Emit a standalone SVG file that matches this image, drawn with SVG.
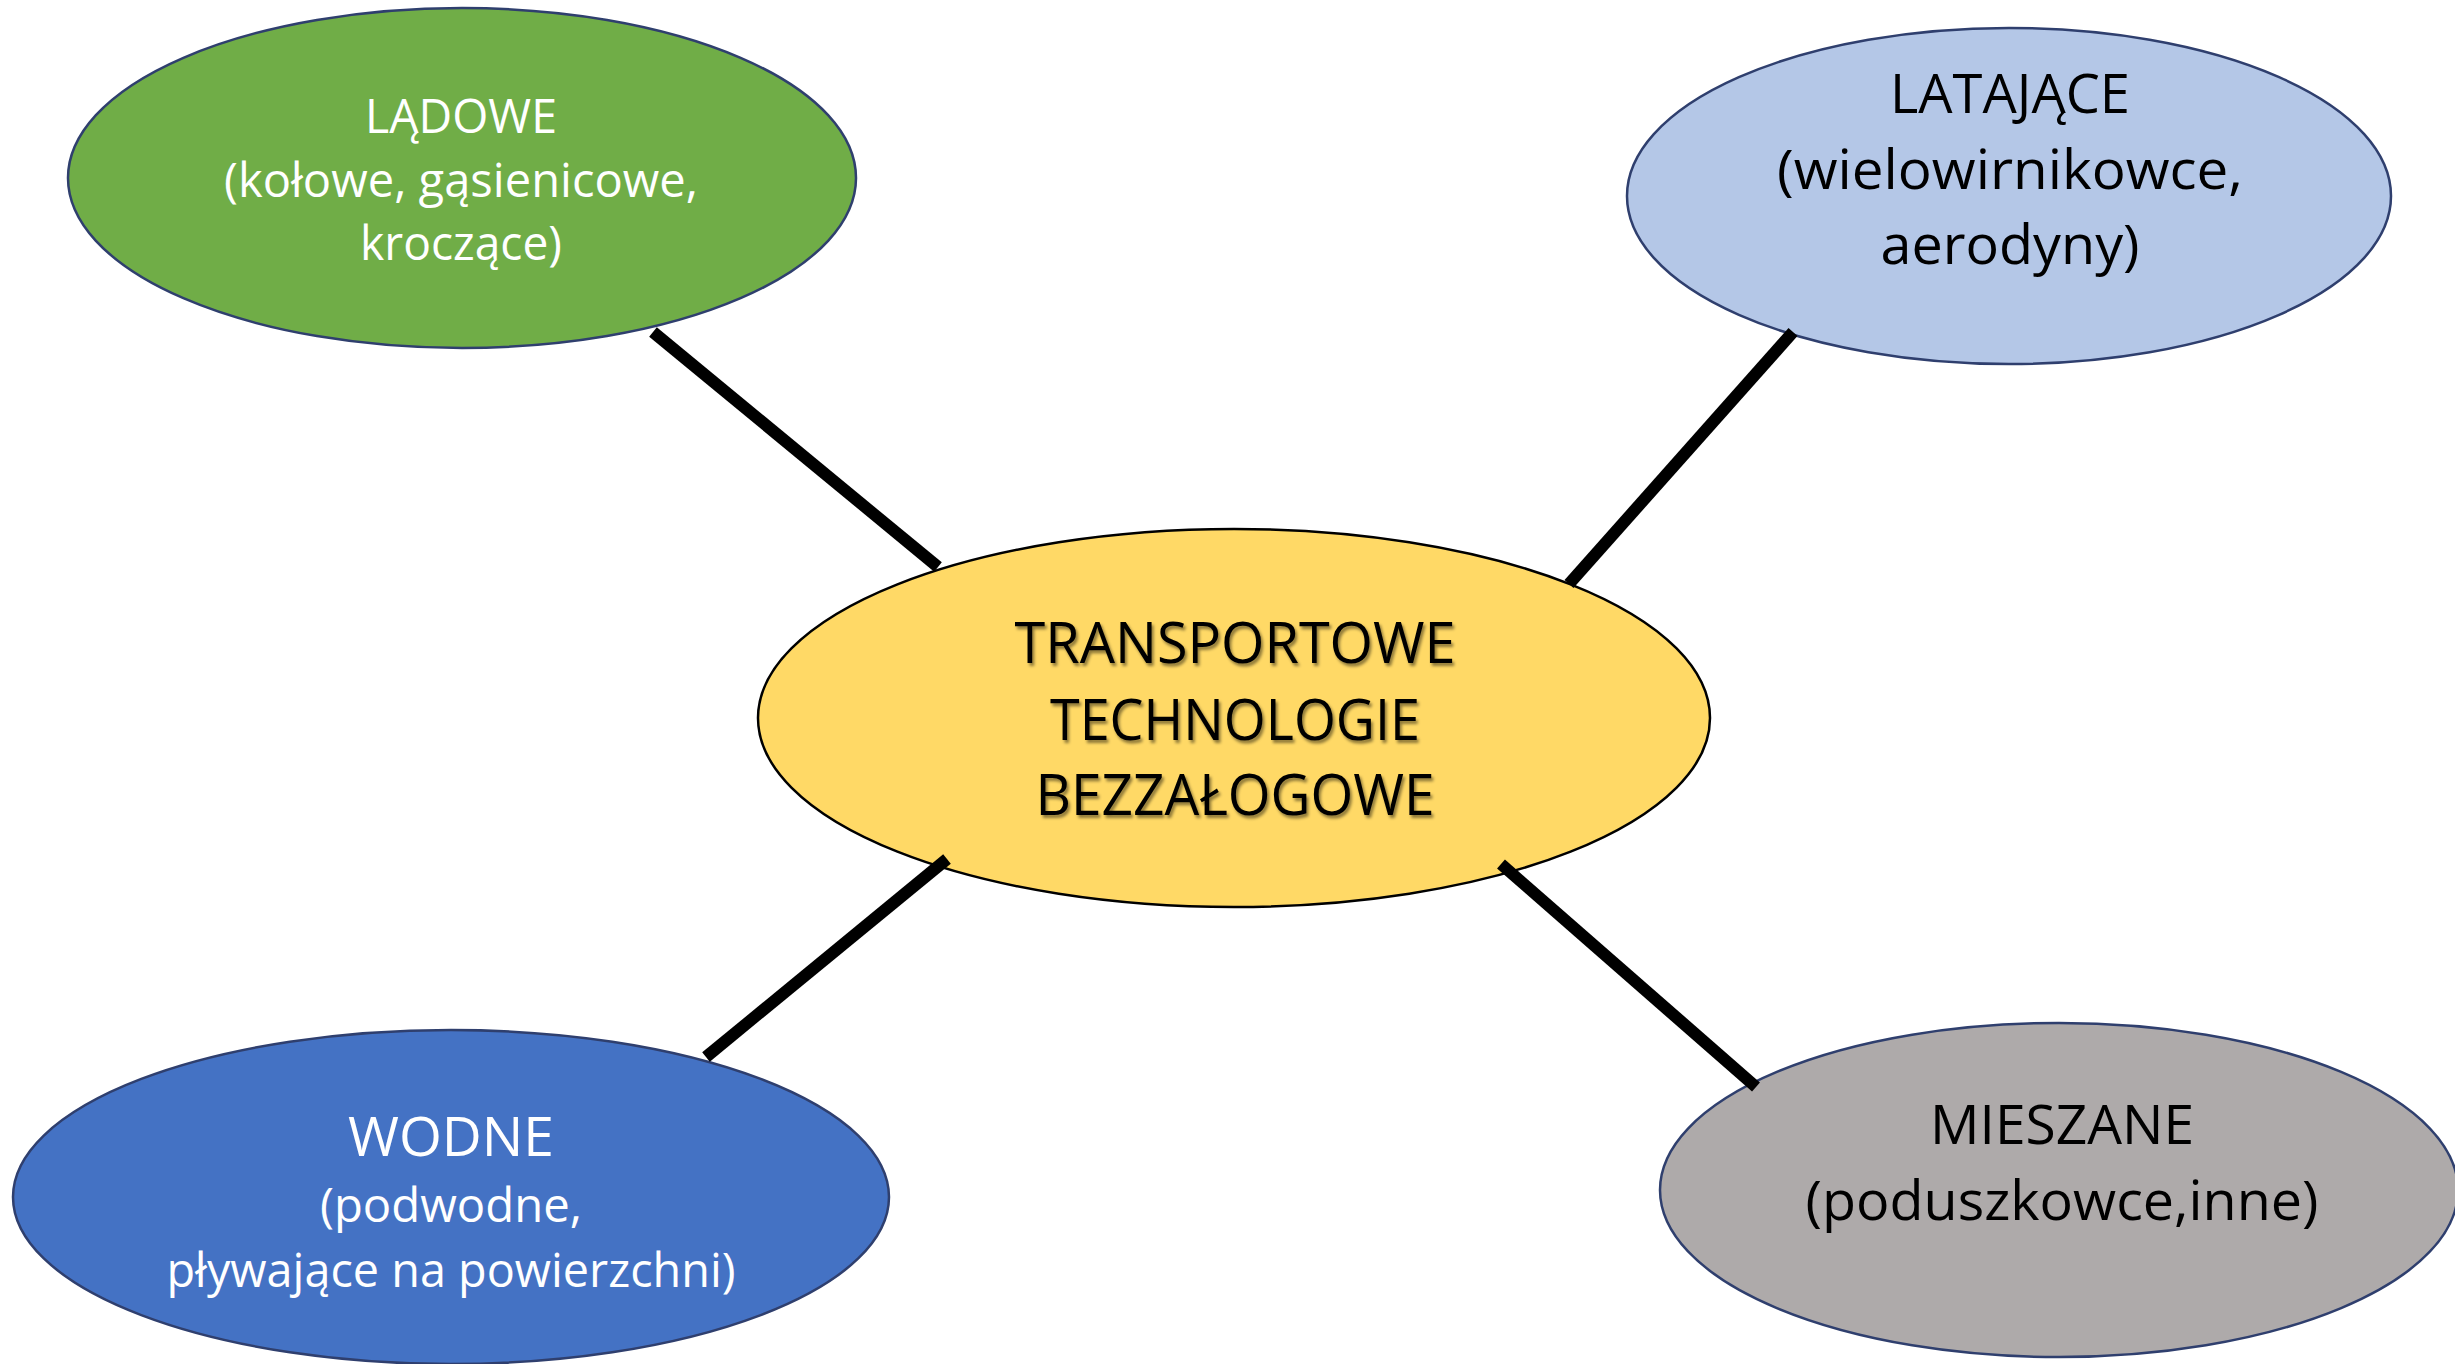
<svg xmlns="http://www.w3.org/2000/svg" width="2455" height="1364" viewBox="0 0 2455 1364">
<style>
.node{stroke:#2F3F6E;stroke-width:2.5}
.t{font-family:"Open Sans","Liberation Sans",sans-serif;text-anchor:middle}
.w{fill:#FFFFFF}
.b{fill:#000000}
.conn{stroke:#000000;stroke-width:12;stroke-linecap:butt;fill:none}
</style>
<defs>
<filter id="sh" x="-10%" y="-10%" width="120%" height="130%">
<feDropShadow dx="2" dy="3" stdDeviation="1.8" flood-color="#000" flood-opacity="0.45"/>
</filter>
</defs>
<rect width="2455" height="1364" fill="#FFFFFF"/>
<g id="node-center">
<ellipse cx="1234" cy="718" rx="476" ry="189" fill="#FFD966" stroke="#000" stroke-width="2.5"/>
<g class="t b" font-size="56" filter="url(#sh)">
<text x="1235" y="663" textLength="441" lengthAdjust="spacingAndGlyphs">TRANSPORTOWE</text>
<text x="1235" y="740" textLength="370" lengthAdjust="spacingAndGlyphs">TECHNOLOGIE</text>
<text x="1235" y="815" textLength="399" lengthAdjust="spacingAndGlyphs">BEZZAŁOGOWE</text>
</g>
</g>
<g id="node-ladowe">
<ellipse class="node" cx="462" cy="178" rx="394" ry="170" fill="#70AD47"/>
<g class="t w" font-size="47">
<text x="461" y="133" textLength="192" lengthAdjust="spacingAndGlyphs">LĄDOWE</text>
<text x="461" y="197" textLength="474" lengthAdjust="spacingAndGlyphs">(kołowe, gąsienicowe,</text>
<text x="461" y="260" textLength="202" lengthAdjust="spacingAndGlyphs">kroczące)</text>
</g>
</g>
<g id="node-latajace">
<ellipse class="node" cx="2009" cy="196" rx="382" ry="168" fill="#B4C7E7"/>
<g class="t b" font-size="55">
<text x="2010" y="113" textLength="240" lengthAdjust="spacingAndGlyphs">LATAJĄCE</text>
<text x="2010" y="189" textLength="466" lengthAdjust="spacingAndGlyphs">(wielowirnikowce,</text>
<text x="2010" y="264" textLength="259" lengthAdjust="spacingAndGlyphs">aerodyny)</text>
</g>
</g>
<g id="node-wodne">
<ellipse class="node" cx="451" cy="1197" rx="438" ry="167" fill="#4472C4"/>
<g class="t w">
<text x="451" y="1156" font-size="55" textLength="206" lengthAdjust="spacingAndGlyphs">WODNE</text>
<text x="451" y="1222" font-size="47" textLength="262" lengthAdjust="spacingAndGlyphs">(podwodne,</text>
<text x="451" y="1287" font-size="47" textLength="569" lengthAdjust="spacingAndGlyphs">pływające na powierzchni)</text>
</g>
</g>
<g id="node-mieszane">
<ellipse class="node" cx="2059" cy="1190" rx="399" ry="167" fill="#AEAAAA"/>
<g class="t b" font-size="55">
<text x="2062" y="1144" textLength="264" lengthAdjust="spacingAndGlyphs">MIESZANE</text>
<text x="2062" y="1220" textLength="513" lengthAdjust="spacingAndGlyphs">(poduszkowce,inne)</text>
</g>
</g>
<g id="connectors">
<line class="conn" x1="653" y1="332" x2="938" y2="567"/>
<line class="conn" x1="1793" y1="332" x2="1569" y2="584"/>
<line class="conn" x1="947" y1="859" x2="706" y2="1057"/>
<line class="conn" x1="1501" y1="864" x2="1756" y2="1087"/>
</g>
</svg>
